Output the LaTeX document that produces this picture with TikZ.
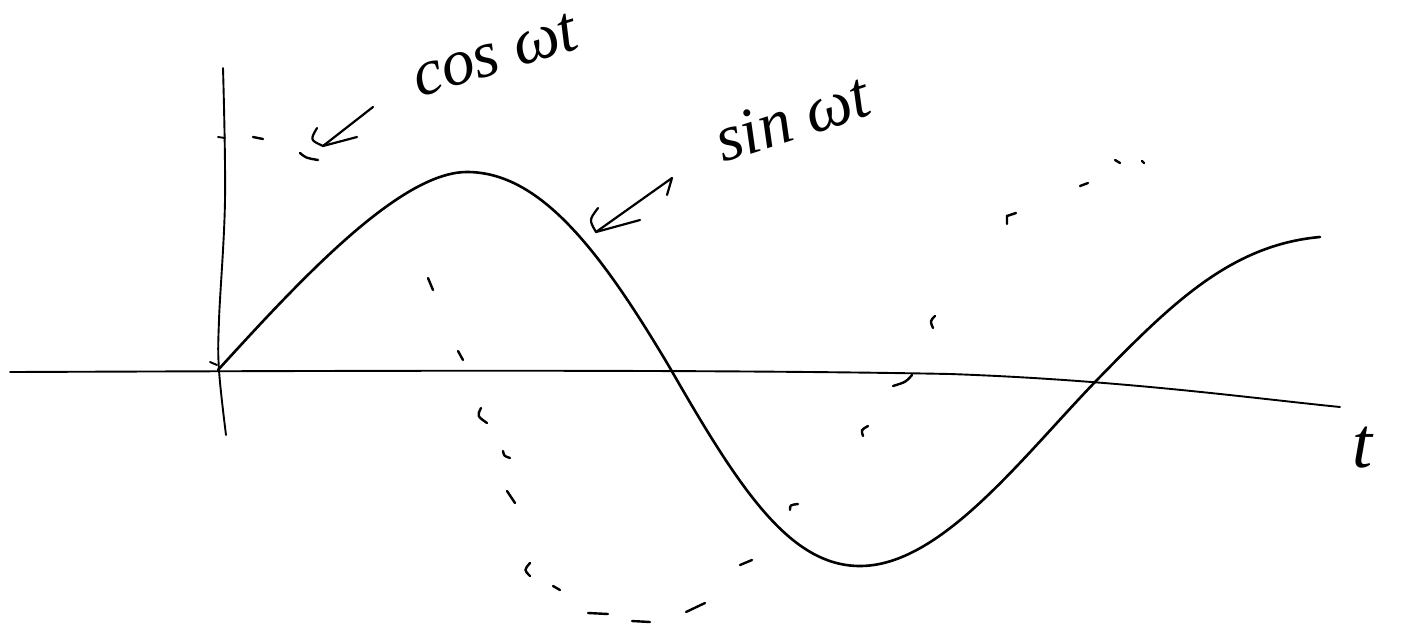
\documentclass[tikz,border=0pt]{standalone}
\usepackage{fontspec}
\setmainfont{Liberation Serif}
\begin{document}
\begin{tikzpicture}[x=1pt,y=-1pt,
  axisline/.style={line width=1.9pt, line cap=round},
  curveline/.style={line width=2.6pt, line cap=round, line join=round},
  dashmark/.style={line width=2.4pt, line cap=round},
  arrowline/.style={line width=2.2pt, line cap=round, line join=round},
  lbl/.style={inner sep=0pt, font=\fontsize{66}{68}\selectfont\itshape}]
\useasboundingbox (0,0) rectangle (1423,626);
% horizontal axis
\draw[axisline] (10,372) .. controls (300,371) and (700,369) .. (950,374) .. controls (1120,380) and (1250,398) .. (1340,407);
% vertical axis
\draw[axisline] plot[smooth, tension=0.6] coordinates {(223,68) (225,200) (219,320) (219,370) (226,435)};
\draw[axisline] (218,137) -- (225,138);
\draw[axisline] (210,362) -- (217,365);
% sine curve
\draw[curveline] (218,370) .. controls (300,280) and (400,172) .. (467,172)
  .. controls (540,172) and (600,250) .. (670,368)
  .. controls (740,490) and (790,566) .. (860,566)
  .. controls (940,566) and (1020,460) .. (1095,382)
  .. controls (1170,305) and (1230,245) .. (1320,237);
% dashed cosine
\draw[dashmark] (253,137) -- (263,139);
\draw[dashmark] (300,153) .. controls (306,158) .. (318,160);
\draw[dashmark] (428,278) -- (433,290);
\draw[dashmark] (458,351) -- (463,360);
\draw[dashmark] (481,408) .. controls (477,416) .. (487,423);
\draw[dashmark] (503,451) .. controls (504,456) .. (510,458);
\draw[dashmark] (507,491) -- (515,503);
\draw[dashmark] (530,563) .. controls (524,570) .. (530,576);
\draw[dashmark] (553,586) -- (560,590);
\draw[dashmark] (588,613) -- (608,614);
\draw[dashmark] (632,621) -- (650,622);
\draw[dashmark] (686,612) -- (705,603);
\draw[dashmark] (740,565) -- (752,560);
\draw[dashmark] (790,510) .. controls (790,505) .. (798,504);
\draw[dashmark] (868,426) .. controls (861,430) .. (863,436);
\draw[dashmark] (912,375) .. controls (906,382) .. (893,386);
\draw[dashmark] (935,316) .. controls (930,321) .. (933,328);
\draw[dashmark] (1007,224) -- (1007,216) -- (1016,213);
\draw[dashmark] (1080,186) -- (1088,183);
\draw[dashmark] (1115,160) -- (1120,163);
\draw[dashmark] (1142,161) -- (1144,163);
% labels
\node[lbl, rotate=17] (cos) at (495,55) {cos ωt};
\node[lbl, rotate=18] (sin) at (792,118) {sin ωt};
\node[lbl, font=\fontsize{72}{74}\selectfont\itshape] (tl) at (1362,448) {t};
% arrows (hand drawn)
\coordinate (cosTip) at (323,146);
\coordinate (sinTip) at (596,232);
\draw[arrowline] (373,107) -- (cosTip);
\draw[arrowline] (317,128) .. controls (310,140) .. (cosTip) -- (357,137);
\draw[arrowline] (667,195) -- (672,178) -- (sinTip);
\draw[arrowline] (598,208) .. controls (589,220) .. (sinTip) -- (640,220);
\end{tikzpicture}
\end{document}
